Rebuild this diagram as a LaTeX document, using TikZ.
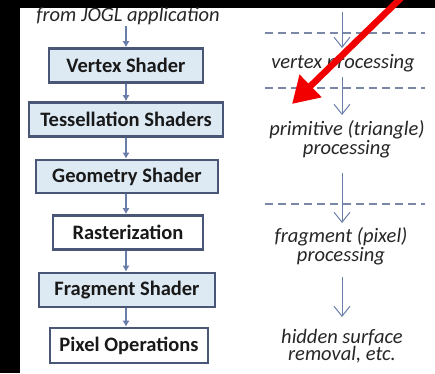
\documentclass[tikz,border=0pt]{standalone}
\usepackage{fontspec}
\setmainfont{Carlito}
\usetikzlibrary{arrows.meta}
\definecolor{boxline}{HTML}{4A5676}
\definecolor{boxfill}{HTML}{DDEAF3}
\definecolor{flowarrow}{HTML}{6A7EAA}
\definecolor{dashline}{HTML}{7A88A6}
\definecolor{pointer}{HTML}{F20000}
\tikzset{
  stage/.style={draw=boxline, line width=2.6pt, fill=boxfill, inner sep=0pt,
    font=\fontsize{20.5}{22}\selectfont\bfseries, text=black!90},
  plainstage/.style={stage, fill=white},
  flow/.style={draw=flowarrow, line width=1.1pt, -{Latex[length=6pt,width=7pt]}},
  phase/.style={font=\fontsize{20.5}{17}\selectfont\itshape, text=black!85, align=center, inner sep=1pt},
  phasearrow/.style={draw=flowarrow, line width=1pt, -{Straight Barb[length=10pt,width=16pt,line width=1pt]}},
  phaseline/.style={draw=dashline, line width=1.4pt, dash pattern=on 8pt off 5pt},
}
\begin{document}
\begin{tikzpicture}[x=1pt,y=-1pt]
\useasboundingbox (0,0) rectangle (435,373);
\fill[black] (0,0) rectangle (435,373);
\fill[white] (20,8) rectangle (435,373);

% pipeline stages
\node[phase] (src) at (128,16) {from JOGL application};
\node[stage, minimum width=154pt, minimum height=34pt] (vs) at (126,65.5) {Vertex Shader};
\node[stage, minimum width=194pt, minimum height=34pt] (ts) at (126,119.5) {Tessellation Shaders};
\node[stage, minimum width=182pt, minimum height=33pt] (gs) at (127,176.5) {Geometry Shader};
\node[plainstage, minimum width=150pt, minimum height=34pt] (rs) at (128,232.5) {Rasterization};
\node[stage, minimum width=176pt, minimum height=34pt] (fs) at (127,290) {Fragment Shader};
\node[plainstage, minimum width=158pt, minimum height=35pt] (po) at (129,345.5) {Pixel Operations};

\coordinate (s0) at (126,26);
\draw[flow] (s0) -- (vs.north);
\draw[flow] (vs.south) -- (vs.south |- ts.north);
\draw[flow] (ts.south -| vs.south) -- (vs.south |- gs.north);
\draw[flow] (gs.south -| vs.south) -- (vs.south |- rs.north);
\draw[flow] (rs.south -| vs.south) -- (vs.south |- fs.north);
\draw[flow] (fs.south -| vs.south) -- (vs.south |- po.north);

% processing phases
\coordinate (dl1) at (265,33);
\coordinate (dr1) at (425,33);
\coordinate (dl2) at (265,88);
\coordinate (dr2) at (425,88);
\coordinate (dl3) at (265,204);
\coordinate (dr3) at (425,204);
\draw[phaseline] (dl1) -- (dr1);
\draw[phaseline] (dl2) -- (dr2);
\draw[phaseline] (dl3) -- (dr3);

\node[phase] (p1) at (343,63) {vertex processing};
\node[phase] (p2) at (347,139.5) {primitive (triangle)\\processing};
\node[phase] (p3) at (341,246) {fragment (pixel)\\processing};
\node[phase] (p4) at (342,346) {hidden surface\\removal, etc.};

\coordinate (a1) at (342,12);
\coordinate (a1e) at (342,48);
\coordinate (a2) at (342,77);
\coordinate (a2e) at (342,115);
\coordinate (a3) at (342,173);
\coordinate (a3e) at (342,223);
\coordinate (a4) at (342,277);
\coordinate (a4e) at (342,317);
\draw[phasearrow] (a1) -- (a1e);
\draw[phasearrow] (a2) -- (a2e);
\draw[phasearrow] (a3) -- (a3e);
\draw[phasearrow] (a4) -- (a4e);

% red pointer
\coordinate (r0) at (401,-2);
\coordinate (r1) at (292,104);
\draw[pointer, line width=6.5pt, -{Triangle[length=26pt,width=30pt]}] (r0) -- (r1);
\end{tikzpicture}
\end{document}
